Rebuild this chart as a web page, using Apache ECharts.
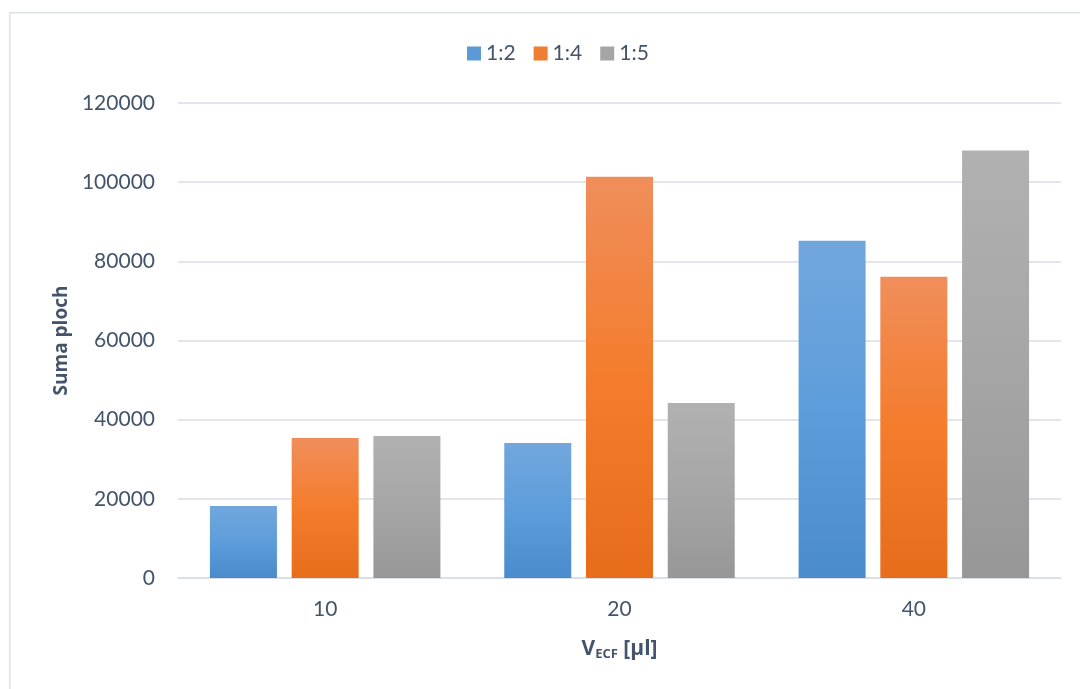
<!DOCTYPE html>
<html>
<head>
<meta charset="utf-8">
<script src="https://cdn.jsdelivr.net/npm/echarts@6/dist/echarts.min.js"></script>
<style>
html,body{margin:0;padding:0;background:#fff;}
#c{width:1080px;height:689px;}
</style>
</head>
<body>
<div id="c"></div>
<script>
var categories = ['10', '20', '40'];
var seriesNames = ['1:2', '1:4', '1:5'];
var values12 = [18200, 34100, 85200];
var values14 = [35400, 101400, 76100];
var values15 = [35900, 44200, 108000];
var yTicks = [0, 20000, 40000, 60000, 80000, 100000, 120000];

var FONT = 'Lato, "Open Sans", sans-serif';
var BFONT = '"Open Sans", Lato, sans-serif';
var TXT = '#44546a';

function grad(top, mid, bot) {
  return new echarts.graphic.LinearGradient(0, 0, 0, 1, [
    {offset: 0, color: top}, {offset: 0.5, color: mid}, {offset: 1, color: bot}
  ]);
}
var colors = [
  grad('#72a7dd', '#5d9ddb', '#4a8bcc'),
  grad('#f08e5b', '#f47c2c', '#e76d1b'),
  grad('#b1b1b1', '#a6a6a6', '#979797')
];
var legendColors = ['#5b9bd5', '#ed7d31', '#a5a5a5'];
var dataSets = [values12, values14, values15];

var chart = echarts.init(document.getElementById('c'), null, {renderer: 'canvas'});
chart.setOption({
  animation: false,
  backgroundColor: '#fff',
  graphic: [{
    type: 'rect', left: 9, top: 12, z: -10,
    shape: {width: 1100, height: 700},
    style: {fill: '#fff', stroke: '#dde2ea', lineWidth: 1.5}
  }],
  legend: {
    top: 38, left: 462,
    itemWidth: 14, itemHeight: 14, itemGap: 18,
    textStyle: {fontFamily: FONT, fontSize: 21, color: TXT},
    data: seriesNames.map(function (n, i) {
      return {name: n, icon: 'rect', itemStyle: {color: legendColors[i]}};
    })
  },
  grid: {left: 178, right: 19, top: 103, bottom: 111, containLabel: false},
  xAxis: {
    type: 'category', data: categories,
    axisTick: {show: false},
    axisLine: {lineStyle: {color: '#d9dee6', width: 1.5}},
    axisLabel: {fontFamily: FONT, fontSize: 21, color: TXT, margin: 21},
    name: '{v|V}{s|ECF}{v| [µl]}',
    nameLocation: 'middle', nameGap: 60,
    nameTextStyle: {
      rich: {
        v: {fontFamily: BFONT, fontSize: 21, fontWeight: 'bold', color: TXT},
        s: {fontFamily: BFONT, fontSize: 13, fontWeight: 'bold', color: TXT, verticalAlign: 'bottom', padding: [10, 0, 0, 0]}
      }
    }
  },
  yAxis: {
    type: 'value', min: yTicks[0], max: yTicks[yTicks.length - 1], interval: yTicks[1] - yTicks[0],
    axisLine: {show: false}, axisTick: {show: false},
    splitLine: {lineStyle: {color: '#d9dee6', width: 1.5}},
    axisLabel: {fontFamily: FONT, fontSize: 21, color: TXT, margin: 23,
      formatter: function (v) { return String(v); }},
    name: 'Suma ploch', nameLocation: 'middle', nameGap: 107, nameRotate: 90,
    nameTextStyle: {fontFamily: BFONT, fontSize: 19, fontWeight: 'bold', color: TXT}
  },
  series: seriesNames.map(function (n, i) {
    return {
      name: n, type: 'bar', data: dataSets[i],
      barWidth: 67, barGap: '22%',
      itemStyle: {color: colors[i]}
    };
  })
});
</script>
</body>
</html>
